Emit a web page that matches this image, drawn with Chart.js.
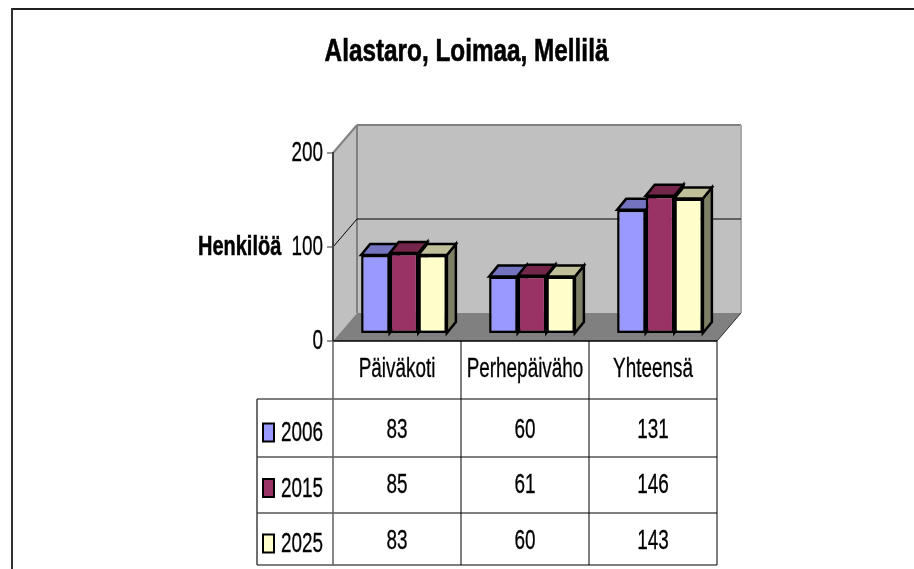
<!DOCTYPE html>
<html>
<head>
<meta charset="utf-8">
<title>Alastaro, Loimaa, Mellilä</title>
<script src="https://cdn.jsdelivr.net/npm/chart.js@4"></script>
<style>
    html, body { margin: 0; padding: 0; background: #fff; overflow: hidden; }
    canvas { display: block; }
</style>
</head>
<body>
<canvas id="chart" width="914" height="569"></canvas>
<script>
const titleText = 'Alastaro, Loimaa, Mellilä';
const axisTitle = 'Henkilöä';
const categories = ['Päiväkoti', 'Perhepäiväho', 'Yhteensä'];
const years = ['2006', '2015', '2025'];
const values2006 = [83, 60, 131];
const values2015 = [85, 61, 146];
const values2025 = [83, 60, 143];
const yTicks = [0, 100, 200];

const frontColors = ['#9999ff', '#993366', '#ffffcc'];
const topColors = ['#7373bf', '#732649', '#bfbf99'];
const sideColors = ['#73738f', '#5c1f3d', '#7f7f66'];

const FONT = '"Liberation Sans", Arial, sans-serif';
const NARROW = 0.7;

// how far the walls and the bars sit behind the axis plane
const wall = { dx: 24, dy: -28 };
const barShift = { dx: 7, dy: -8 };
const barDepth = { dx: 9, dy: -11 };
const table = { left: 257, rows: [399, 457, 513, 565], rowText: [428, 483.5, 539] };

function line(ctx, x1, y1, x2, y2, color, width) {
    ctx.strokeStyle = color;
    ctx.lineWidth = width;
    ctx.beginPath();
    ctx.moveTo(x1, y1);
    ctx.lineTo(x2, y2);
    ctx.stroke();
}

function poly(ctx, pts, fill, stroke, width) {
    ctx.beginPath();
    pts.forEach((p, i) => i ? ctx.lineTo(p[0], p[1]) : ctx.moveTo(p[0], p[1]));
    ctx.closePath();
    ctx.fillStyle = fill;
    ctx.fill();
    if (stroke) {
        ctx.strokeStyle = stroke;
        ctx.lineWidth = width;
        ctx.lineJoin = 'miter';
        ctx.stroke();
    }
}

// the reference text is squeezed sideways, canvas fonts can't do that by themselves
function text(ctx, str, x, y, font, align = 'center', sx = NARROW, heavy = 0.3) {
    ctx.save();
    ctx.translate(x, y);
    ctx.scale(sx, 1);
    ctx.font = font;
    ctx.fillStyle = '#000';
    ctx.strokeStyle = '#000';
    ctx.lineWidth = heavy;
    ctx.textAlign = align;
    ctx.textBaseline = 'alphabetic';
    ctx.fillText(str, 0, 0);
    ctx.strokeText(str, 0, 0);
    ctx.restore();
}

const scene = {
    id: 'scene',
    beforeDatasetsDraw(chart) {
        const ctx = chart.ctx;
        const { left, right, top, bottom } = chart.chartArea;
        const y = chart.scales.y;
        const backTop = top + wall.dy, backBottom = bottom + wall.dy;
        const backLeft = left + wall.dx, backRight = right + wall.dx;

        poly(ctx, [[left, top], [backLeft, backTop], [backLeft, backBottom], [left, bottom]], '#c0c0c0');
        poly(ctx, [[backLeft, backTop], [backRight, backTop], [backRight, backBottom], [backLeft, backBottom]], '#c0c0c0');
        poly(ctx, [[left, bottom], [backLeft, backBottom], [backRight, backBottom], [right, bottom]], '#808080');

        line(ctx, left, top, backLeft, backTop, '#808080', 2);
        line(ctx, backLeft, backTop, backRight, backTop, '#808080', 2);
        line(ctx, backRight, backTop, backRight, backBottom, '#a8a8a8', 2);
        line(ctx, backLeft, backTop, backLeft, backBottom, '#808080', 2);
        line(ctx, right, bottom, backRight, backBottom, '#303030', 1);

        // gridline on the walls and tick marks
        yTicks.forEach(v => {
            const py = y.getPixelForValue(v);
            line(ctx, left - 6, py, left, py, '#303030', 1);
            if (v === 100) {
                line(ctx, left, py, backLeft, py + wall.dy, '#000', 1);
                line(ctx, backLeft, py + wall.dy, backRight, py + wall.dy, '#000', 1);
            }
        });
        line(ctx, left, top - 1, left, bottom, '#404040', 2);

        // tops and right sides of the bars, fronts come from Chart.js after this
        chart.data.datasets.forEach((ds, d) => {
            chart.getDatasetMeta(d).data.forEach(bar => {
                const x1 = bar.x - bar.width / 2 + barShift.dx;
                const x2 = bar.x + bar.width / 2 + barShift.dx;
                const yt = bar.y + barShift.dy;
                const yb = bar.base + barShift.dy;
                poly(ctx, [[x2, yb], [x2 + barDepth.dx, yb + barDepth.dy], [x2 + barDepth.dx, yt + barDepth.dy], [x2, yt]], sideColors[d], '#000', 2.5);
                poly(ctx, [[x1, yt], [x1 + barDepth.dx, yt + barDepth.dy], [x2 + barDepth.dx, yt + barDepth.dy], [x2, yt]], topColors[d], '#000', 2.5);
            });
        });

        ctx.save();
        ctx.translate(barShift.dx, barShift.dy);
    },
    afterDatasetsDraw(chart) {
        chart.ctx.restore();
    },
    afterDraw(chart) {
        const ctx = chart.ctx;
        const { left, right, bottom } = chart.chartArea;
        const x = chart.scales.x;
        const y = chart.scales.y;

        // frame, only top and left are inside the picture
        line(ctx, 12, 9, 914, 9, '#202020', 2);
        line(ctx, 12, 8, 12, 569, '#303030', 2);

        text(ctx, titleText, 466.5, 61, 'bold 32px ' + FONT, 'center', 0.76, 0.6);
        text(ctx, axisTitle, 198, 255, 'bold 27px ' + FONT, 'left', 0.74, 0.5);

        yTicks.forEach(v => {
            text(ctx, String(v), 323, y.getPixelForValue(v) + 8, '27px ' + FONT, 'right');
        });

        // data table
        line(ctx, left, bottom, right, bottom, '#000', 1.5);
        table.rows.forEach(r => line(ctx, table.left, r, right, r, '#000', 1));
        line(ctx, table.left, table.rows[0], table.left, table.rows[3], '#404040', 1.5);
        line(ctx, left, bottom, left, table.rows[3], '#606060', 1.5);
        categories.forEach((c, i) => {
            const edge = left + (right - left) * (i + 1) / categories.length;
            line(ctx, edge, bottom, edge, table.rows[3], '#000', 1);
            text(ctx, c, x.getPixelForValue(i), 377, '27px ' + FONT);
        });
        chart.data.datasets.forEach((ds, d) => {
            const mid = table.rowText[d];
            poly(ctx, [[263, mid - 4.5], [274, mid - 4.5], [274, mid + 13.5], [263, mid + 13.5]], ds.backgroundColor, '#000', 2);
            text(ctx, ds.label, 281, mid + 13, '27px ' + FONT, 'left');
            ds.data.forEach((v, i) => {
                text(ctx, String(v), x.getPixelForValue(i), mid + 9.5, '27px ' + FONT);
            });
        });
    },
};

new Chart(document.getElementById('chart'), {
    type: 'bar',
    data: {
        labels: categories,
        datasets: [values2006, values2015, values2025].map((data, i) => ({
            label: years[i],
            data,
            backgroundColor: frontColors[i],
            borderColor: '#000',
            borderWidth: 2.5,
            borderSkipped: false,
            clip: false,
            categoryPercentage: 0.67,
            barPercentage: 1,
        })),
    },
    options: {
        responsive: false,
        animation: false,
        layout: { padding: { left: 333, top: 153, right: 197, bottom: 228 } },
        plugins: { legend: { display: false }, title: { display: false }, tooltip: { enabled: false } },
        scales: {
            x: { display: false },
            y: { display: false, min: 0, max: 200, ticks: { stepSize: 100 } },
        },
    },
    plugins: [scene],
});
</script>
</body>
</html>
